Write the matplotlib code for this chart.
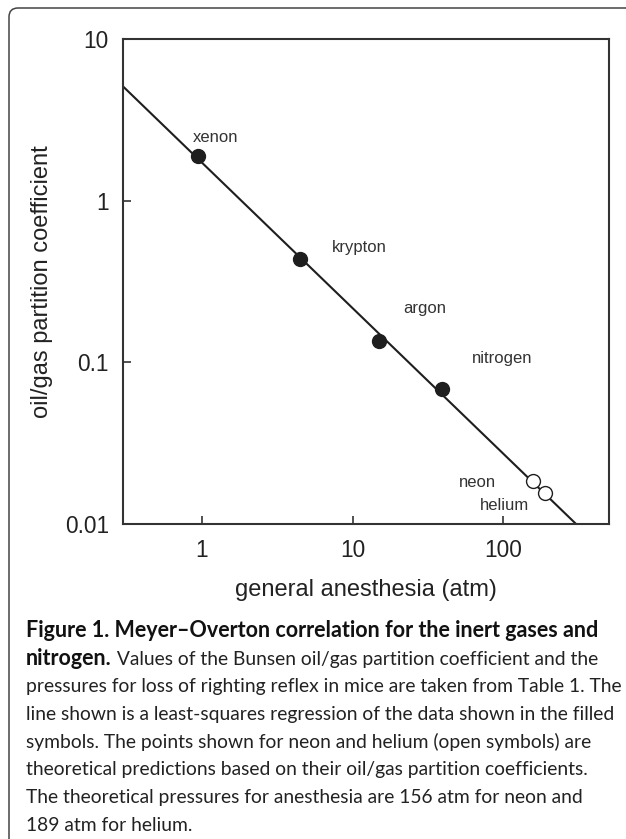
import matplotlib
matplotlib.use("Agg")
import matplotlib.pyplot as plt
import numpy as np
from matplotlib.patches import FancyBboxPatch
from matplotlib.transforms import IdentityTransform

# anesthetic pressure (atm) and oil/gas partition coefficient, filled symbols
gases = ["xenon", "krypton", "argon", "nitrogen"]
pressure = [0.95, 4.5, 14.9, 39.4]
oil_gas = [1.88, 0.436, 0.136, 0.0685]

# theoretical points, open symbols
open_gases = ["neon", "helium"]
open_pressure = [156, 189]
open_oil_gas = [0.0184, 0.0156]

xticks = [1, 10, 100]
xticklabels = ["1", "10", "100"]
yticks = [0.01, 0.1, 1, 10]
yticklabels = ["0.01", "0.1", "1", "10"]

# where the gas names sit (left edge / baseline, data units)
label_x = [0.87, 7.3, 21.8, 62.1, 50.4, 69.9]
label_y = [2.29, 0.479, 0.202, 0.0986, 0.0170, 0.0122]

caption_bold = "Figure 1. Meyer\u2013Overton correlation for the inert gases and"
caption_bold2 = "nitrogen."
caption_rest = [
    " Values of the Bunsen oil/gas partition coefficient and the",
    "pressures for loss of righting reflex in mice are taken from Table 1. The",
    "line shown is a least-squares regression of the data shown in the filled",
    "symbols. The points shown for neon and helium (open symbols) are",
    "theoretical predictions based on their oil/gas partition coefficients.",
    "The theoretical pressures for anesthesia are 156 atm for neon and",
    "189 atm for helium.",
]

plt.rcParams["font.family"] = ["Liberation Sans", "DejaVu Sans"]

W, H = 626, 839
fig = plt.figure(figsize=(W / 100, H / 100), dpi=100)
ax = fig.add_axes([122.7 / W, 1 - 524 / H, (609 - 122.7) / W, (524 - 39) / H])

dark = "#1e1e1e"

# least-squares line through the filled points (log-log)
coef = np.polyfit(np.log10(pressure), np.log10(oil_gas), 1)
xs = np.logspace(np.log10(0.3), np.log10(500), 200)
ax.plot(xs, 10 ** np.polyval(coef, np.log10(xs)), color=dark, lw=1.5, zorder=2)

ax.plot(pressure, oil_gas, "o", ms=10, color=dark, zorder=3)
ax.plot(open_pressure, open_oil_gas, "o", ms=10, mfc="white", mec=dark, mew=1.0, zorder=3)

for name, x, y in zip(gases + open_gases, label_x, label_y):
    ax.text(x, y, name, fontsize=12, color="#333333", ha="left", va="baseline")

ax.set_xscale("log")
ax.set_yscale("log")
ax.set_xlim(0.3, 500)
ax.set_ylim(0.01, 10)
ax.minorticks_off()
ax.set_xticks(xticks)
ax.set_xticklabels(xticklabels)
ax.set_yticks(yticks)
ax.set_yticklabels(yticklabels)
ax.tick_params(direction="in", length=6, width=1.2, color="#333333",
               labelsize=16.3, labelcolor="#222222")
ax.tick_params(axis="x", pad=11)
ax.tick_params(axis="y", pad=10)
for s in ax.spines.values():
    s.set_linewidth(1.5)
    s.set_color("#333333")

ax.set_xlabel("general anesthesia (atm)", fontsize=17, color="#222222")
ax.xaxis.set_label_coords(0.5, -72 / 485)
ax.xaxis.label.set_va("baseline")
ax.set_ylabel("oil/gas partition coefficient", fontsize=17, color="#222222")
ax.yaxis.set_label_coords((42 - 122.7) / 486.3, 0.5)
ax.yaxis.label.set_va("center")

# rounded frame around figure + caption (runs off right and bottom edge)
frame = FancyBboxPatch((9, -30), 660, H - 8 + 30, boxstyle="round,pad=0,rounding_size=9",
                       transform=IdentityTransform(), fill=False, ec="#444444", lw=1.1)
fig.patches.append(frame)

# caption, font sizes fitted to the line widths of the original
cap_font = "Lato"
probe = fig.text(0, 0, caption_rest[2], fontsize=12, family=cap_font)
probe_b = fig.text(0, 0, caption_bold, fontsize=12, family=cap_font, weight="bold")
fig.canvas.draw()
cap_size = 12 * (613 - 26) / probe.get_window_extent().width
bold_size = 12 * (597 - 26) / probe_b.get_window_extent().width
probe.remove()
probe_b.remove()

x0 = 26 / W
base = 637
step = 27.7
fig.text(x0, 1 - base / H, caption_bold, fontsize=bold_size, family=cap_font,
         weight="bold", color="#111111", va="baseline")
b2 = fig.text(x0, 1 - (base + step) / H, caption_bold2, fontsize=bold_size,
              family=cap_font, weight="bold", color="#111111", va="baseline")
fig.canvas.draw()
ax.annotate(caption_rest[0], xy=(1, 1 - (base + step) / H), xycoords=(b2, "figure fraction"),
            fontsize=cap_size, family=cap_font, color="#222222", va="baseline", ha="left",
            annotation_clip=False)
for i, line in enumerate(caption_rest[1:]):
    fig.text(x0, 1 - (base + step * (i + 2)) / H, line, fontsize=cap_size,
             family=cap_font, color="#222222", va="baseline")

fig.savefig("out.png", dpi=100)
